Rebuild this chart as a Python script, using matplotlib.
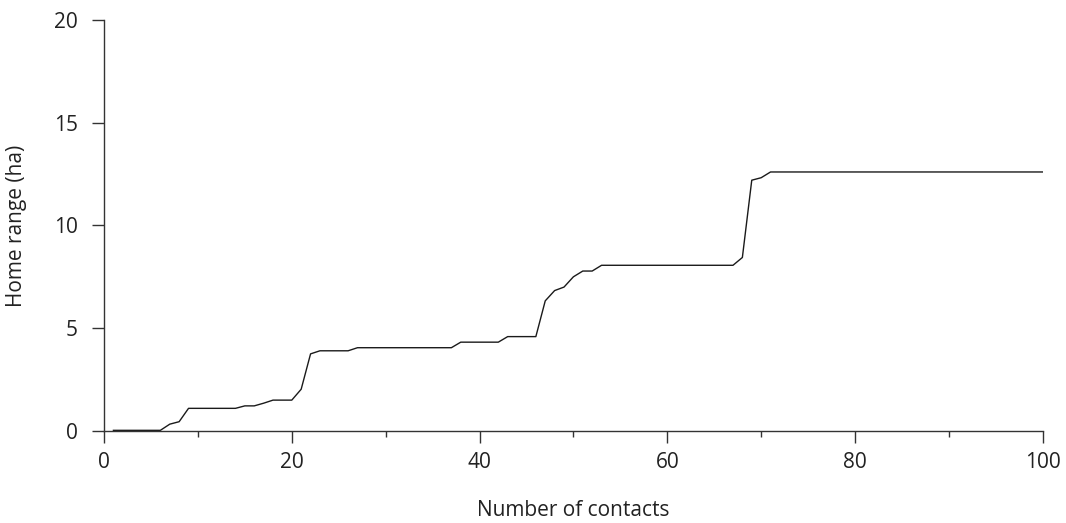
import numpy as np
import matplotlib.pyplot as plt
from matplotlib.ticker import MultipleLocator

# cumulative home range estimate per number of contacts
contacts = list(range(1, 101))
home_range = (
    [0.03] * 6
    + [0.33, 0.45]
    + [1.1] * 6
    + [1.22, 1.22, 1.35]
    + [1.5] * 3
    + [2.03, 3.75]
    + [3.9] * 4
    + [4.05] * 11
    + [4.32] * 5
    + [4.59] * 4
    + [6.33, 6.83, 7.0, 7.5, 7.78, 7.78]
    + [8.06] * 15
    + [8.44, 12.2, 12.32]
    + [12.6] * 30
)

x_ticks = [0, 20, 40, 60, 80, 100]
y_ticks = [0, 5, 10, 15, 20]


def main():
    plt.rcParams['font.family'] = ['Open Sans', 'DejaVu Sans']
    plt.rcParams['font.size'] = 15

    fig = plt.figure(figsize=(10.66, 5.23), dpi=100)
    ax = fig.add_axes([0.0976, 0.176, 0.8806, 0.786])

    ax.plot(contacts, home_range, color='#1a1a1a', linewidth=1.0)

    ax.set_xlim(0, 100)
    ax.set_ylim(0, 20)
    ax.set_xticks(x_ticks)
    ax.set_yticks(y_ticks)
    ax.xaxis.set_minor_locator(MultipleLocator(10))

    for side in ('top', 'right'):
        ax.spines[side].set_visible(False)
    for side in ('left', 'bottom'):
        ax.spines[side].set_color('#333333')
        ax.spines[side].set_linewidth(1.0)

    ax.tick_params(axis='both', which='major', direction='out', length=8.5,
                   width=1.0, color='#333333', labelcolor='#222222')
    ax.tick_params(axis='x', which='major', pad=7)
    ax.tick_params(axis='y', which='major', pad=10.5)
    ax.tick_params(axis='x', which='minor', direction='out', length=4.5,
                   width=1.0, color='#333333')

    ax.set_xlabel("Number of contacts", color='#222222', labelpad=19)
    ax.set_ylabel("Home range (ha)", color='#222222', labelpad=19)

    fig.savefig("out.png", dpi=100)


if __name__ == "__main__":
    main()
